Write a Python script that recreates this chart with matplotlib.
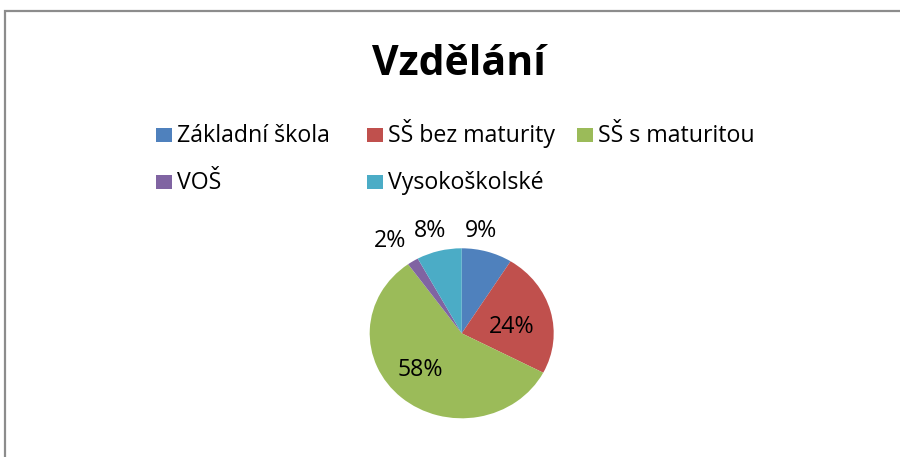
import matplotlib
matplotlib.use('Agg')
import matplotlib.pyplot as plt
from matplotlib.patches import Rectangle

categories = ['Základní škola', 'SŠ bez maturity', 'SŠ s maturitou', 'VOŠ', 'Vysokoškolské']
values = [9, 24, 58, 2, 8]
pct_labels = ['9%', '24%', '58%', '2%', '8%']
colors = ['#4F81BD', '#C0504D', '#9BBB59', '#8064A2', '#4BACC6']

plt.rcParams['font.family'] = ['Open Sans', 'DejaVu Sans']

W, H = 900, 457
fig = plt.figure(figsize=(W / 100, H / 100), dpi=100)

# chart area border (runs off the right and bottom edge)
fig.patches.append(Rectangle((5 / W, -0.1), 1.2, 1 - 11 / H + 0.1, transform=fig.transFigure,
                             fill=False, edgecolor='#8c8c8c', linewidth=1.6))

fig.text(459 / W, 1 - 75 / H, 'Vzdělání', ha='center', va='baseline', fontsize=29.5, fontweight='bold')

# legend drawn by hand, Excel style
leg_x = [156, 367, 577, 156, 367]
leg_base = [141.7, 141.7, 141.7, 189.3, 189.3]
for i, lab in enumerate(categories):
    fig.patches.append(Rectangle((leg_x[i] / W, 1 - leg_base[i] / H), 16 / W, 14 / H,
                                 transform=fig.transFigure, facecolor=colors[i], edgecolor='none'))
    fig.text((leg_x[i] + 21) / W, 1 - leg_base[i] / H, lab, ha='left', va='baseline', fontsize=16.7)

cx, cy, rx, ry = 461.7, 333.3, 92, 85
ax = fig.add_axes([(cx - rx) / W, (H - cy - ry) / H, 2 * rx / W, 2 * ry / H])
wedges, _ = ax.pie(values, colors=colors, startangle=90, counterclock=False, radius=1,
                   wedgeprops=dict(linewidth=0))
ax.set_aspect('auto')
ax.set_xlim(-1, 1)
ax.set_ylim(-1, 1)
ax.axis('off')

# label anchors (centre x, baseline y) in pie axes units
label_pos = [(0.21, 1.133), (0.54, 0.0), (-0.453, -0.502), (-0.78, 1.019), (-0.345, 1.133)]
for (x, y), t in zip(label_pos, pct_labels):
    ax.text(x, y, t, ha='center', va='baseline', fontsize=16.7, clip_on=False)

fig.savefig('out.png', dpi=100)
